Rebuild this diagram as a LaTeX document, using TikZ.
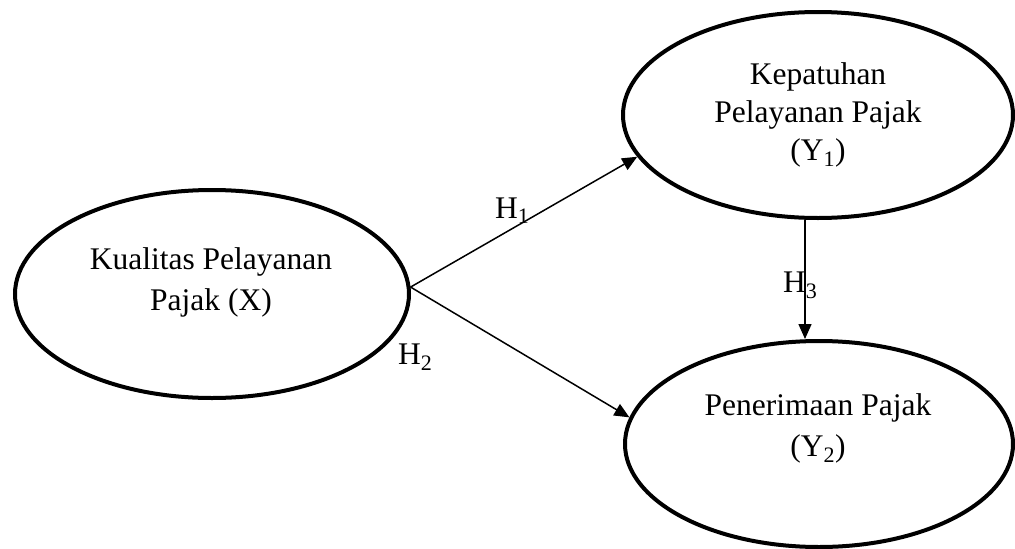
\documentclass[tikz,border=0pt]{standalone}
\usepackage{fontspec}
\setmainfont{Liberation Serif}
\usetikzlibrary{shapes.geometric,arrows.meta}
\begin{document}
\begin{tikzpicture}[x=1pt,y=-1pt,
  var/.style={ellipse,draw,line width=4pt,inner sep=0pt},
  vtext/.style={align=center,inner sep=0pt},
  hlab/.style={anchor=base west,inner sep=0pt,font=\fontsize{31.5}{31.5}\selectfont},
  conn/.style={line width=1.5pt,-{Triangle[length=15pt,width=13pt]}}]
\useasboundingbox (0,0) rectangle (1015,549);
\node[var,minimum width=394pt,minimum height=208pt] (X) at (212,294) {};
\node[var,minimum width=390pt,minimum height=206pt] (Y1) at (818,115) {};
\node[var,minimum width=388pt,minimum height=206pt] (Y2) at (819,444) {};
\node[vtext,font=\fontsize{31.5}{41}\selectfont] (tX) at (211,282.4) {Kualitas Pelayanan\\Pajak (X)};
\node[vtext,font=\fontsize{31.5}{38}\selectfont] (tY1) at (818,115.2) {Kepatuhan\\Pelayanan Pajak\\(Y\textsubscript{1})};
\node[vtext,font=\fontsize{31.5}{41}\selectfont] (tY2) at (818,428.2) {Penerimaan Pajak\\(Y\textsubscript{2})};
\draw[conn] (X.2) -- (Y1.193);
\draw[conn] (X.2) -- (Y2.172);
\draw[conn] ([xshift=-13pt]Y1.south) -- ([xshift=-14pt]Y2.north);
\node[hlab] (h1) at (495,218) {H\textsubscript{1}};
\node[hlab] (h2) at (398,364) {H\textsubscript{2}};
\node[hlab] (h3) at (783,292) {H\textsubscript{3}};
\end{tikzpicture}
\end{document}
